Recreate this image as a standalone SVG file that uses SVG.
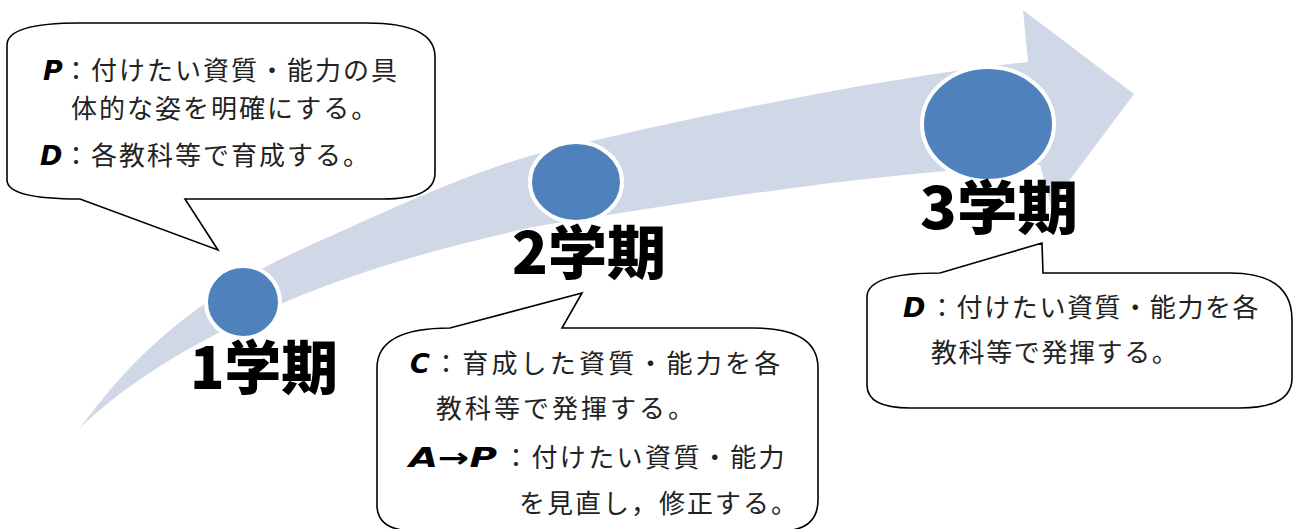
<svg xmlns="http://www.w3.org/2000/svg" width="1295" height="529" viewBox="0 0 1295 529">
<style>
.bg{fill:#ffffff}
.arrow{fill:#D0D8E8}
.dot{fill:#4F81BD;stroke:#ffffff;stroke-width:4}
.lbl{font-family:"Noto Sans CJK JP","Noto Sans CJK SC",sans-serif;font-weight:900;font-size:58px;fill:#000}
.bub{fill:#ffffff;stroke:#000;stroke-width:1.6;stroke-linejoin:miter}
.t{font-family:"Noto Sans CJK JP","Noto Sans CJK SC",sans-serif;font-size:26px;font-weight:normal;font-style:normal;fill:#222}
.k{font-family:"DejaVu Sans","Liberation Sans",sans-serif;font-weight:bold;font-style:oblique;font-size:27px;fill:#000}
</style>
<rect class="bg" x="0" y="0" width="1295" height="529"/>
<g id="connectors">
<path class="arrow" d="M80,428 C130,360 190,300 300,250 C380,214 460,176 533,155 C700,115 880,78 1028,62 L1023,10 L1134,94 L1051,205 L1040,165 C880,172 700,200 533,227 C450,245 360,270 283,303 C200,338 130,380 80,428 Z"/>
</g>
<g id="term1">
<ellipse class="dot" cx="243" cy="302" rx="37" ry="36"/>
<text class="lbl" x="190" y="389" textLength="148" lengthAdjust="spacingAndGlyphs">1学期</text>
</g>
<g id="term2">
<ellipse class="dot" cx="576" cy="182" rx="46" ry="40"/>
<text class="lbl" x="512" y="274" textLength="154" lengthAdjust="spacingAndGlyphs">2学期</text>
</g>
<g id="term3">
<ellipse class="dot" cx="988" cy="124" rx="66" ry="57"/>
<text class="lbl" x="920" y="229" textLength="158" lengthAdjust="spacingAndGlyphs">3学期</text>
</g>
<g id="bubble1">
<path class="bub" d="M7,45 Q7,23 80,23 L367,23 Q435,23 435,57 L435,173 Q435,199 383,199 L185,199 L218,250 L80,199 Q7,199 7,180 Z"/>
<text x="43" y="80"><tspan class="k">P</tspan><tspan class="t" x="63" letter-spacing="2">：付けたい資質・能力の具</tspan></text>
<text class="t" x="71" y="118" letter-spacing="2">体的な姿を明確にする。</text>
<text x="40" y="165"><tspan class="k">D</tspan><tspan class="t" x="63" letter-spacing="2">：各教科等で育成する。</tspan></text>
</g>
<g id="bubble2">
<path class="bub" d="M377,368 Q377,328 450,328 L582,293 L562,328 L753,328 Q818,328 818,368 L818,500 Q818,531 780,531 L415,531 Q377,531 377,505 Z"/>
<text x="410" y="373"><tspan class="k">C</tspan><tspan class="t" x="433" letter-spacing="3.2">：育成した資質・能力を各</tspan></text>
<text class="t" x="436" y="418" letter-spacing="3">教科等で発揮する。</text>
<text x="409" y="467"><tspan class="k" textLength="88" lengthAdjust="spacingAndGlyphs">A→P</tspan><tspan class="t" x="503" letter-spacing="2.4">：付けたい資質・能力</tspan></text>
<text class="t" x="519" y="513" letter-spacing="2">を見直し，修正する。</text>
</g>
<g id="bubble3">
<path class="bub" d="M867,297 Q867,273 940,273 L1042,243 L1043,273 L1230,273 Q1292,273 1292,320 L1292,378 Q1292,408 1240,408 L910,408 Q867,408 867,385 Z"/>
<text x="903" y="317"><tspan class="k">D</tspan><tspan class="t" x="929" letter-spacing="1.6">：付けたい資質・能力を各</tspan></text>
<text class="t" x="931" y="362" letter-spacing="1.6">教科等で発揮する。</text>
</g>
</svg>
